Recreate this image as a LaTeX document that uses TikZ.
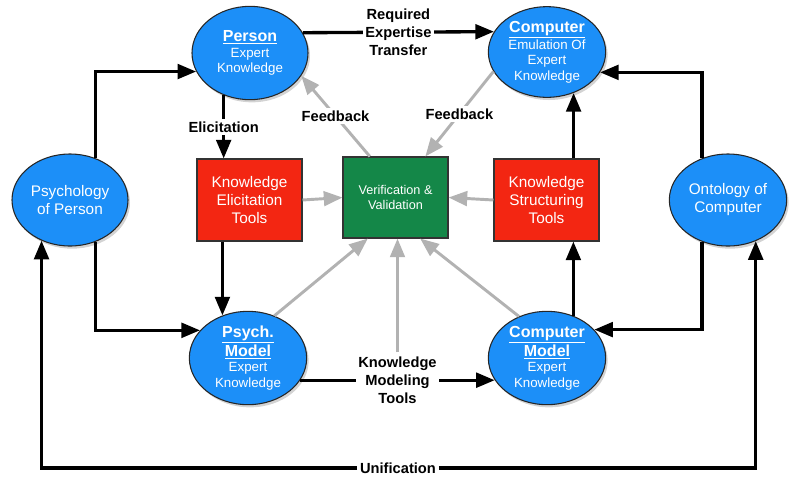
\documentclass[tikz,border=0pt]{standalone}
\usepackage{fontspec}
\setmainfont{Liberation Sans}
\usetikzlibrary{arrows.meta,shapes.geometric,shadows}

\definecolor{skyblue}{RGB}{28,143,248}
\definecolor{toolred}{RGB}{243,38,18}
\definecolor{checkgreen}{RGB}{20,135,72}
\definecolor{fbgray}{RGB}{178,178,178}

\newcommand{\ttl}[1]{{\bfseries\fontsize{12}{13.5}\selectfont\underline{#1}}}

\begin{document}
\begin{tikzpicture}[x=0.75pt, y=-0.75pt,
    blob/.style={ellipse, draw=black!85, line width=0.8pt, fill=skyblue, text=white,
        align=center, inner sep=-1pt, font=\fontsize{10}{11.6}\selectfont,
        drop shadow={shadow xshift=1.5pt, shadow yshift=-2pt, opacity=0.35}},
    tool/.style={rectangle, draw=black!80, line width=0.8pt, fill=toolred, text=white,
        align=center, minimum width=78.75pt, minimum height=61.5pt,
        font=\fontsize{11.5}{13.5}\selectfont},
    blk/.style={line width=2.5pt, -{Triangle[length=14pt,width=11pt]}},
    fb/.style={draw=fbgray, line width=2.2pt, -{Triangle[length=14pt,width=11pt]}},
    lbl/.style={fill=white, inner sep=2pt, align=center,
        font=\bfseries\fontsize{11}{13.5}\selectfont},
  ]
    \useasboundingbox (0,0) rectangle (800,487);

    % ellipses
    \node[blob, minimum width=87pt, minimum height=70pt] (person) at (250,53)
        {\ttl{Person}\\Expert\\Knowledge};
    \node[blob, minimum width=88pt, minimum height=68pt] (comp) at (547,52)
        {\ttl{Computer}\\Emulation Of\\Expert\\Knowledge};
    \node[blob, minimum width=87pt, minimum height=69pt,
        font=\fontsize{11.5}{13.5}\selectfont] (psych) at (70,200) {Psychology\\of Person};
    \node[blob, minimum width=88pt, minimum height=69pt,
        font=\fontsize{11.5}{13.5}\selectfont] (onto) at (728,200) {Ontology of\\Computer};
    \node[blob, minimum width=88pt, minimum height=70pt] (psym) at (248,358)
        {\ttl{Psych.}\\\ttl{Model}\\Expert\\Knowledge};
    \node[blob, minimum width=88pt, minimum height=70pt] (cmod) at (547,358)
        {\ttl{Computer}\\\ttl{Model}\\Expert\\Knowledge};

    % boxes
    \node[tool] (elic) at (249.5,200) {Knowledge\\Elicitation\\Tools};
    \node[tool] (struct) at (546.5,200) {Knowledge\\Structuring\\Tools};
    \node[tool, fill=checkgreen, minimum height=60.75pt,
        font=\fontsize{9.5}{11}\selectfont] (ver) at (395.5,197.5) {Verification \&\\Validation};

    % black connectors
    \draw[blk] (person.21) -- node[lbl] {Required\\Expertise\\Transfer} (comp.159);
    \draw[blk] (person.238) -- node[lbl] {Elicitation} (person.238 |- elic.north);
    \draw[blk] (elic.south -| psym.121) -- (psym.121);
    \draw[blk] (psych.59) |- (person.199);
    \draw[blk] (psych.-59) |- (psym.150);
    \draw[blk] (onto.122) |- (comp.-21);
    \draw[blk] (onto.-122) |- (cmod.31);
    \draw[blk] (cmod.58) -- (cmod.58 |- struct.south);
    \draw[blk] (struct.north -| comp.-57) -- (comp.-57);
    \draw[blk] (psym.-23) -- node[lbl] (kmt) {Knowledge\\Modeling\\Tools} (cmod.203);
    \node[lbl] (unif) at (398,468) {Unification};
    \draw[blk] (unif.west) -| (psych.235);
    \draw[blk] (unif.east) -| (onto.-56);

    % grey connectors
    \draw[fb] (ver.122) -- node[lbl] {Feedback} (person.-24);
    \draw[fb] (comp.200) -- node[lbl] {Feedback} (ver.54);
    \draw[fb] (elic.east) -- (ver.west);
    \draw[fb] (struct.west) -- (ver.east);
    \draw[fb] (psym.58) -- (ver.236);
    \draw[fb] (kmt.north) -- (kmt.north |- ver.south);
    \draw[fb] (cmod.124) -- (ver.-59);
\end{tikzpicture}
\end{document}
